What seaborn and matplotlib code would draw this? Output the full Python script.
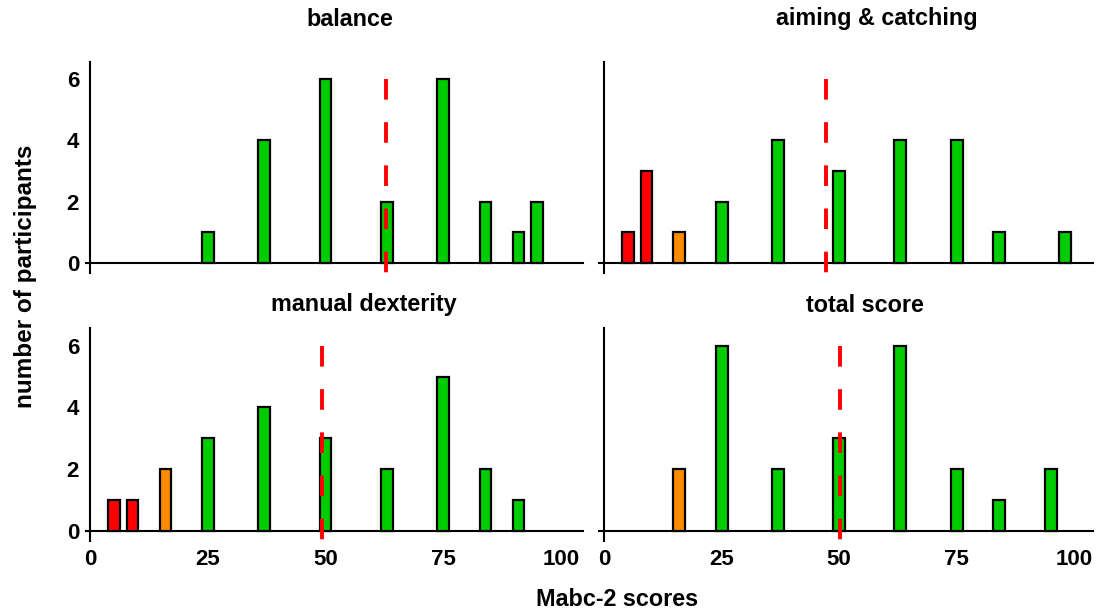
import numpy as np
import pandas as pd
import matplotlib
matplotlib.use("Agg")
import matplotlib.pyplot as plt
import seaborn as sns

# ---- data ----
panel_titles = ["balance", "aiming & catching", "manual dexterity", "total score"]

balance_x = [25, 37, 50, 63, 75, 84, 91, 95]
balance_n = [1, 4, 6, 2, 6, 2, 1, 2]

aiming_x = [5, 9, 16, 25, 37, 50, 63, 75, 84, 98]
aiming_n = [1, 3, 1, 2, 4, 3, 4, 4, 1, 1]

manual_x = [5, 9, 16, 25, 37, 50, 63, 75, 84, 91]
manual_n = [1, 1, 2, 3, 4, 3, 2, 5, 2, 1]

total_x = [16, 25, 37, 50, 63, 75, 84, 95]
total_n = [2, 6, 2, 3, 6, 2, 1, 2]

mean_lines = [62.8, 47.1, 49.2, 50.2]

x_ticks = [0, 25, 50, 75, 100]
y_ticks = [0, 2, 4, 6]
x_label = "Mabc-2 scores"
y_label = "number of participants"

zone_colors = {"red": "#FF0000", "amber": "#FF8C00", "green": "#00CC00"}


def zone(p):
    if p <= 9:
        return "red"
    if p <= 16:
        return "amber"
    return "green"


sns.set_style("white")
plt.rcParams["font.family"] = ["Liberation Sans", "DejaVu Sans"]
plt.rcParams["font.weight"] = "bold"
plt.rcParams["text.color"] = "black"
plt.rcParams["xtick.color"] = "black"
plt.rcParams["ytick.color"] = "black"

fig = plt.figure(figsize=(11.19, 6.16), dpi=100)
W, H = 1119, 616

# axes rectangles in pixel coordinates (left, top, right, bottom)
rects = [(86, 61.7, 583, 273), (599, 61.7, 1093, 273),
         (86, 328.3, 583, 540.7), (599, 328.3, 1093, 540.7)]
xlims = [(-0.9, 104.7), (-1.1, 104.0), (-0.9, 104.7), (-1.1, 104.0)]
title_pos = [(349.7, 19), (876.7, 19), (363.8, 305), (865, 305)]

datasets = [(balance_x, balance_n), (aiming_x, aiming_n),
            (manual_x, manual_n), (total_x, total_n)]

bar_w = 2.5

for i, ((xs, ns), (l, t, r, b)) in enumerate(zip(datasets, rects)):
    ax = fig.add_axes([l / W, 1 - b / H, (r - l) / W, (b - t) / H])
    df = pd.DataFrame({"score": xs, "n": ns, "zone": [zone(v) for v in xs]})
    sns.barplot(data=df, x="score", y="n", hue="zone", palette=zone_colors,
                native_scale=True, dodge=False, errorbar=None, legend=False,
                saturation=1, edgecolor="black", linewidth=1.6, ax=ax)
    for p in ax.patches:
        c = p.get_x() + p.get_width() / 2
        p.set_width(bar_w)
        p.set_x(c - bar_w / 2)
        p.set_zorder(3)

    ax.vlines(mean_lines[i], 6.0, -0.33, colors="#FF0000", linewidth=2.8,
              linestyles=(0, (5.3, 5.8)), zorder=5)

    ax.set_xlim(*xlims[i])
    ax.set_ylim(-0.33, 6.57)
    ax.set_xlabel("")
    ax.set_ylabel("")
    for s in ["top", "right"]:
        ax.spines[s].set_visible(False)
    for s in ["left", "bottom"]:
        ax.spines[s].set_position(("data", 0))
        ax.spines[s].set_linewidth(1.5)
        ax.spines[s].set_color("black")
        ax.spines[s].set_zorder(2)
    ax.set_xticks(x_ticks)
    ax.set_yticks(y_ticks)
    ax.tick_params(axis="x", length=0, pad=13, labelsize=16, labelcolor="black")
    ax.tick_params(axis="y", length=0, pad=8, labelsize=16, labelcolor="black")
    if i < 2:
        ax.set_xticklabels([])
    else:
        ax.set_xticklabels([str(v) for v in x_ticks], fontweight="bold")
    if i % 2 == 1:
        ax.set_yticklabels([])
    else:
        ax.set_yticklabels([str(v) for v in y_ticks], fontweight="bold")
    ax.grid(False)
    ax.patch.set_alpha(0)

    tx, ty = title_pos[i]
    fig.text(tx / W, 1 - ty / H, panel_titles[i], ha="center", va="center",
             fontsize=16.8, fontweight="bold", color="black")

fig.text(617 / W, 1 - 599 / H, x_label, ha="center", va="center",
         fontsize=16.8, fontweight="bold", color="black")
fig.text(26 / W, 1 - 276.5 / H, y_label, ha="center", va="center",
         rotation=90, fontsize=17.5, fontweight="bold", color="black")

fig.savefig("out.png", dpi=100)
